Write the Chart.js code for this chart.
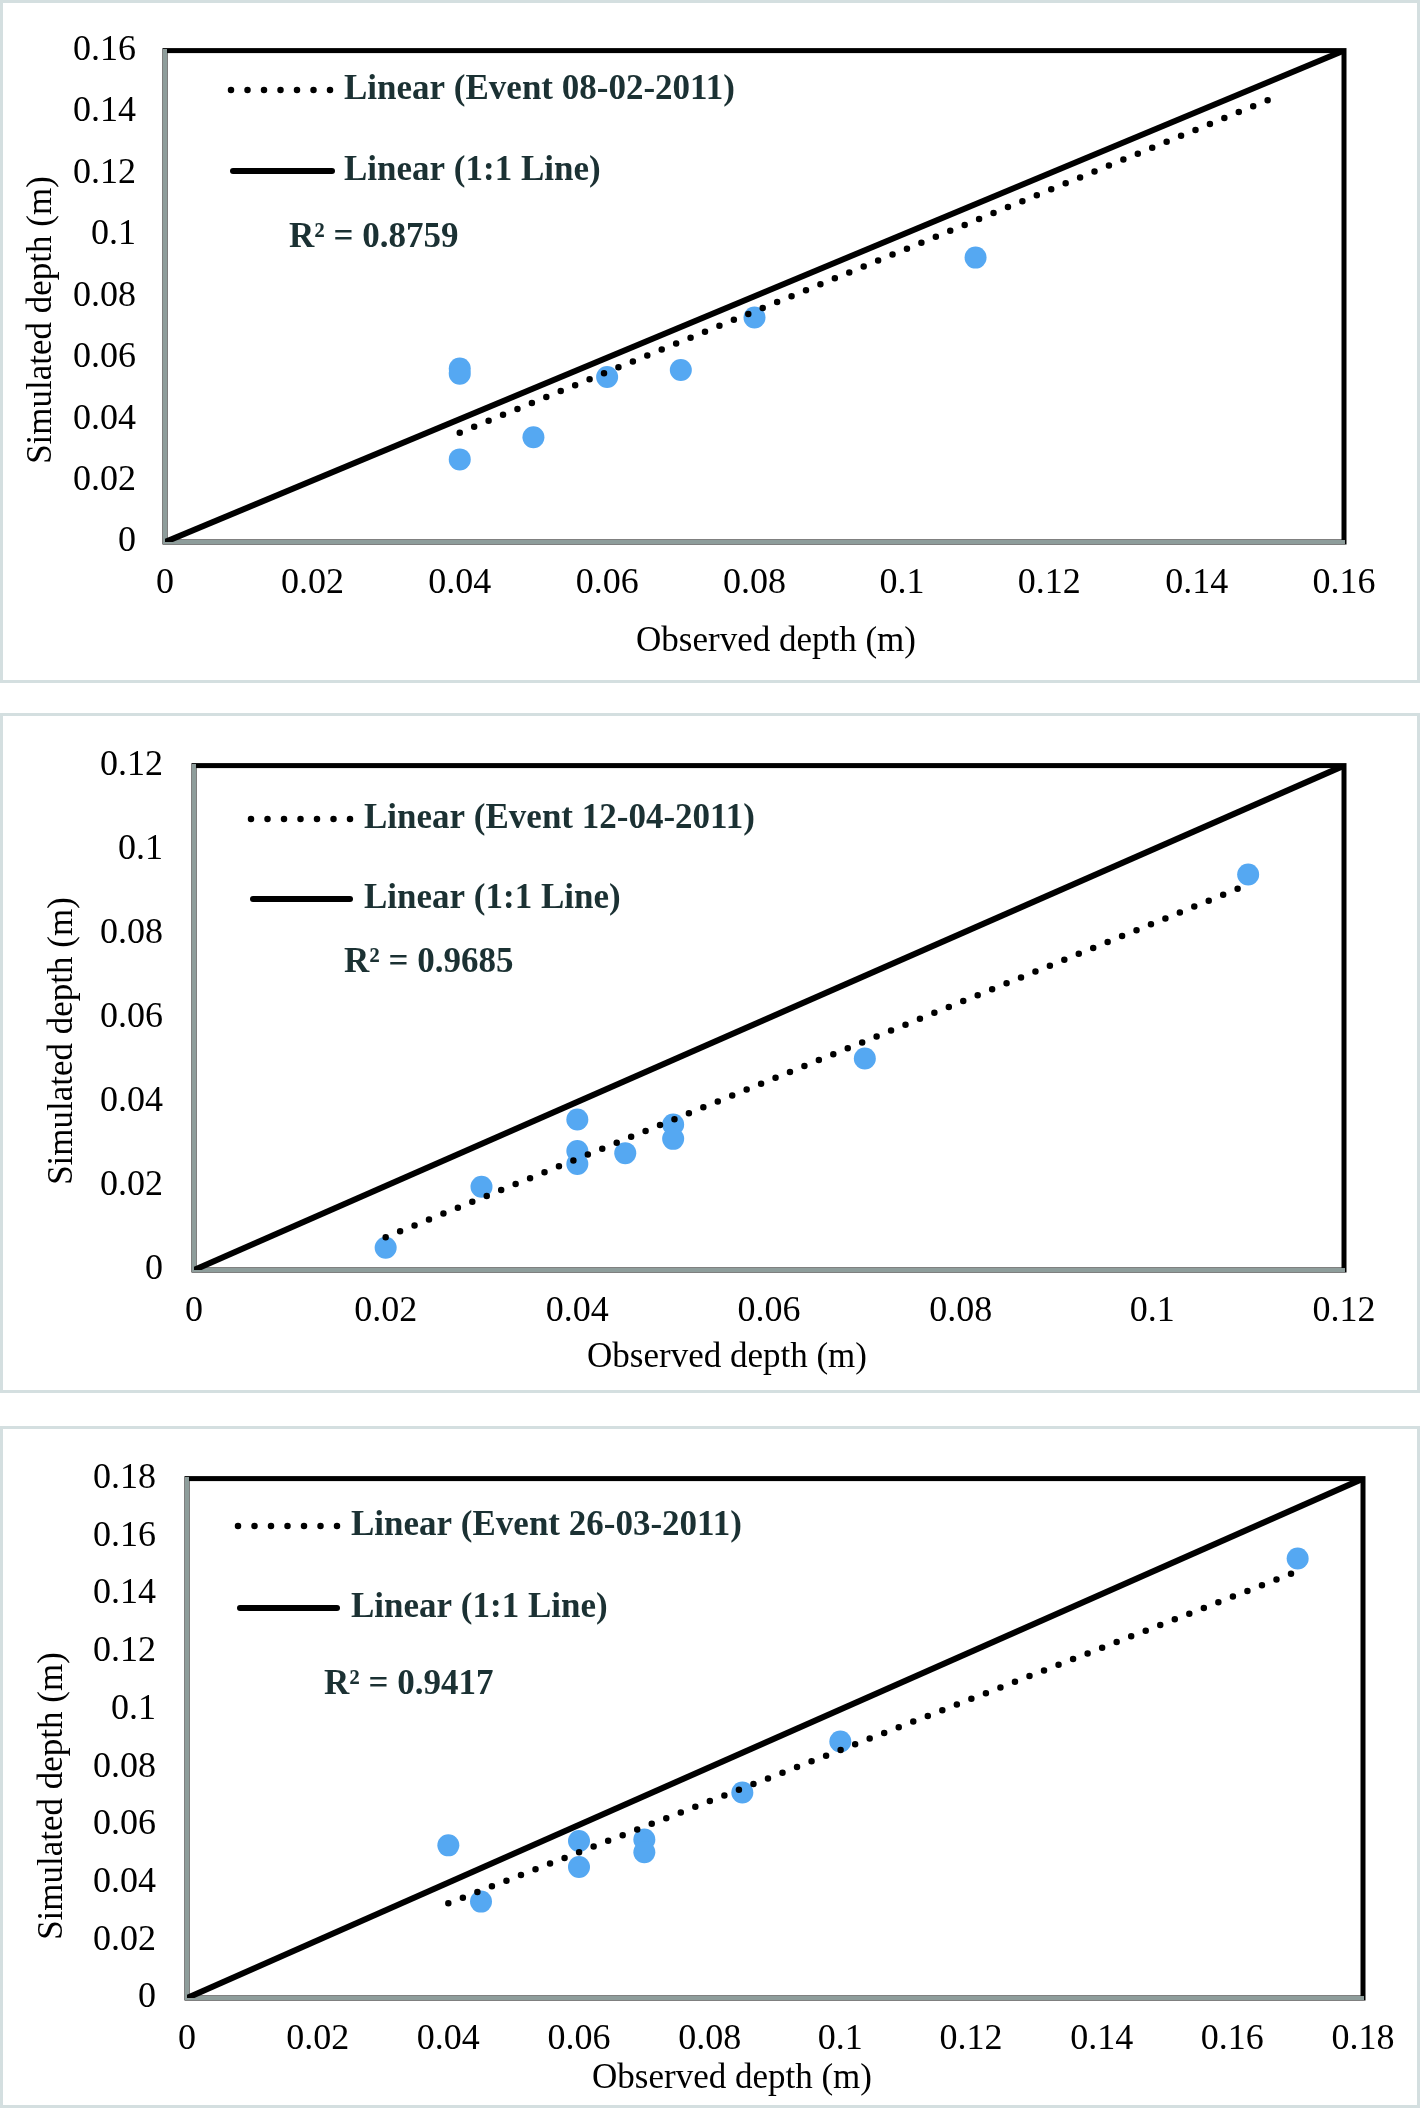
<!DOCTYPE html>
<html>
<head>
<meta charset="utf-8">
<title>Observed vs simulated depth</title>
<script src="https://cdn.jsdelivr.net/npm/chart.js@4.4.0/dist/chart.umd.min.js"></script>
<style>
    html, body { margin: 0; padding: 0; background: #fff; }
    body { width: 1420px; height: 2108px; position: relative; overflow: hidden; }
    .panel { position: absolute; left: 0; width: 1420px; box-sizing: border-box; border: 3px solid #d4dfe0; background: #fff; }
    .panel canvas { position: absolute; left: -3px; top: -3px; }
</style>
</head>
<body>
<div class="panel" style="top:0; height:683px;"><canvas id="chartA" width="1420" height="683"></canvas></div>
<div class="panel" style="top:713px; height:680px;"><canvas id="chartB" width="1420" height="680"></canvas></div>
<div class="panel" style="top:1426px; height:682px;"><canvas id="chartC" width="1420" height="682"></canvas></div>
<script>
// --- Event 08-02-2011 ---
const obsA = [0.04, 0.04, 0.04, 0.05, 0.06, 0.07, 0.08, 0.11];
const simA = [0.0565, 0.0548, 0.0269, 0.0341, 0.0537, 0.0560, 0.0731, 0.0926];
const trendObsA = [0.04, 0.15];
const trendSimA = [0.0356, 0.1442];
const oneToOneA = [0, 0.16];
const ticksA = ['0', '0.02', '0.04', '0.06', '0.08', '0.1', '0.12', '0.14', '0.16'];
const eventA = 'Linear (Event 08-02-2011)';
const r2A = 'R² = 0.8759';

// --- Event 12-04-2011 ---
const obsB = [0.02, 0.03, 0.04, 0.04, 0.04, 0.045, 0.05, 0.05, 0.07, 0.11];
const simB = [0.0053, 0.0198, 0.0358, 0.0283, 0.0252, 0.0278, 0.0346, 0.0312, 0.0503, 0.0941];
const trendObsB = [0.02, 0.11];
const trendSimB = [0.0078, 0.0917];
const oneToOneB = [0, 0.12];
const ticksB = ['0', '0.02', '0.04', '0.06', '0.08', '0.1', '0.12'];
const eventB = 'Linear (Event 12-04-2011)';
const r2B = 'R² = 0.9685';

// --- Event 26-03-2011 ---
const obsC = [0.04, 0.045, 0.06, 0.06, 0.07, 0.07, 0.085, 0.1, 0.17];
const simC = [0.0529, 0.0334, 0.0544, 0.0454, 0.0549, 0.0505, 0.0712, 0.0889, 0.1523];
const trendObsC = [0.04, 0.169];
const trendSimC = [0.0328, 0.147];
const oneToOneC = [0, 0.18];
const ticksC = ['0', '0.02', '0.04', '0.06', '0.08', '0.1', '0.12', '0.14', '0.16', '0.18'];
const eventC = 'Linear (Event 26-03-2011)';
const r2C = 'R² = 0.9417';

const oneToOneLabel = 'Linear (1:1 Line)';
const xTitle = 'Observed depth (m)';
const yTitle = 'Simulated depth (m)';

const POINT_COLOR = '#55a8f2';
const TEXT_COLOR = '#1b3133';
const SERIF = '"Liberation Serif", "Times New Roman", serif';
const DOTS = [0, 15.6];

// Plot frame + texts drawn around the library scales
const framePlugin = {
    id: 'frame',
    beforeDraw(chart) {
        const { ctx, chartArea: a } = chart;
        ctx.save();
        ctx.strokeStyle = '#000';
        ctx.lineWidth = 5;
        ctx.strokeRect(a.left, a.top, a.right - a.left, a.bottom - a.top);
        ctx.restore();
    },
    afterDraw(chart) {
        const { ctx } = chart;
        const lay = chart.options.plugins.frame;
        ctx.save();
        ctx.fillStyle = '#000';
        ctx.font = '35px ' + SERIF;
        ctx.textAlign = 'center';
        ctx.textBaseline = 'middle';
        ctx.fillText(xTitle, lay.xTitle[0], lay.xTitle[1]);
        ctx.save();
        ctx.translate(lay.yTitle[0], lay.yTitle[1]);
        ctx.rotate(-Math.PI / 2);
        ctx.fillText(yTitle, 0, 0);
        ctx.restore();

        // legend samples
        ctx.strokeStyle = '#000';
        ctx.lineCap = 'round';
        ctx.lineWidth = 6.5;
        ctx.setLineDash([0, 16.5]);
        ctx.beginPath();
        ctx.moveTo(lay.sample[0], lay.rowY[0]);
        ctx.lineTo(lay.sample[1] + 1, lay.rowY[0]);
        ctx.stroke();
        ctx.setLineDash([]);
        ctx.lineWidth = 6;
        ctx.beginPath();
        ctx.moveTo(lay.sample[0] + 2, lay.rowY[1]);
        ctx.lineTo(lay.sample[1], lay.rowY[1]);
        ctx.stroke();

        ctx.fillStyle = TEXT_COLOR;
        ctx.font = 'bold 35px ' + SERIF;
        ctx.textAlign = 'left';
        ctx.fillText(lay.eventLabel, lay.textX, lay.rowY[0]);
        ctx.fillText(oneToOneLabel, lay.textX, lay.rowY[1]);
        ctx.fillText(lay.r2Label, lay.r2[0], lay.r2[1]);
        ctx.restore();
    }
};

function toPoints(xs, ys) {
    return xs.map((x, i) => ({ x: x, y: ys[i] }));
}

function makePanel(canvasId, obs, sim, trendObs, trendSim, oneToOne, tickLabels, lay) {
    const canvas = document.getElementById(canvasId);
    const W = canvas.width, H = canvas.height;
    const tickVals = tickLabels.map(Number);
    const tickFont = { family: SERIF, size: 36, lineHeight: 1.2 };

    return new Chart(canvas.getContext('2d'), {
        type: 'scatter',
        data: {
            datasets: [
                {
                    label: lay.eventLabel,
                    data: toPoints(trendObs, trendSim),
                    showLine: true,
                    borderColor: '#000',
                    borderWidth: 6.5,
                    borderDash: DOTS,
                    borderCapStyle: 'round',
                    pointRadius: 0,
                    pointHoverRadius: 0,
                    order: 1
                },
                {
                    label: oneToOneLabel,
                    data: toPoints(oneToOne, oneToOne),
                    showLine: true,
                    borderColor: '#000',
                    borderWidth: 6,
                    pointRadius: 0,
                    pointHoverRadius: 0,
                    order: 2
                },
                {
                    label: 'Observed vs simulated',
                    data: toPoints(obs, sim),
                    pointStyle: 'circle',
                    pointRadius: 11,
                    pointHoverRadius: 11,
                    backgroundColor: POINT_COLOR,
                    borderWidth: 0,
                    order: 3
                }
            ]
        },
        options: {
            responsive: false,
            animation: false,
            events: [],
            layout: { padding: { left: 0, top: lay.T, right: W - lay.R, bottom: 0 } },
            plugins: {
                legend: { display: false },
                tooltip: { enabled: false },
                frame: lay
            },
            scales: {
                x: {
                    type: 'linear',
                    position: 'bottom',
                    min: tickVals[0],
                    max: tickVals[tickVals.length - 1],
                    afterBuildTicks: s => { s.ticks = tickVals.map(v => ({ value: v })); },
                    afterFit: s => { s.height = H - lay.B; },
                    grid: { display: false, drawTicks: false },
                    border: { display: true, color: '#8e9d9b', width: 4 },
                    ticks: {
                        autoSkip: false,
                        maxRotation: 0,
                        padding: lay.xPad,
                        color: '#000',
                        font: tickFont,
                        callback: (v, i) => tickLabels[i]
                    }
                },
                y: {
                    type: 'linear',
                    position: 'left',
                    min: tickVals[0],
                    max: tickVals[tickVals.length - 1],
                    afterBuildTicks: s => { s.ticks = tickVals.map(v => ({ value: v })); },
                    afterFit: s => { s.width = lay.L; },
                    grid: { display: false, drawTicks: false },
                    border: { display: true, color: '#8e9d9b', width: 4 },
                    ticks: {
                        autoSkip: false,
                        padding: lay.yPad,
                        color: '#000',
                        font: tickFont,
                        callback: (v, i) => tickLabels[i]
                    }
                }
            }
        },
        plugins: [framePlugin]
    });
}

makePanel('chartA', obsA, simA, trendObsA, trendSimA, oneToOneA, ticksA, {
    L: 165, T: 33, R: 1344, B: 542, yPad: 29, xPad: 20,
    yTitle: [42, 320], xTitle: [776, 642],
    sample: [231, 332], textX: 344, rowY: [90, 171], r2: [289, 238],
    eventLabel: eventA, r2Label: r2A
});

makePanel('chartB', obsB, simB, trendObsB, trendSimB, oneToOneB, ticksB, {
    L: 194, T: 36, R: 1344, B: 557, yPad: 31, xPad: 20,
    yTitle: [63, 328], xTitle: [727, 645],
    sample: [251, 350], textX: 364, rowY: [106, 186], r2: [344, 250],
    eventLabel: eventB, r2Label: r2B
});

makePanel('chartC', obsC, simC, trendObsC, trendSimC, oneToOneC, ticksC, {
    L: 187, T: 42, R: 1363, B: 572, yPad: 31, xPad: 20,
    yTitle: [53, 370], xTitle: [732, 653],
    sample: [238, 337], textX: 351, rowY: [100, 182], r2: [324, 259],
    eventLabel: eventC, r2Label: r2C
});
</script>
</body>
</html>
